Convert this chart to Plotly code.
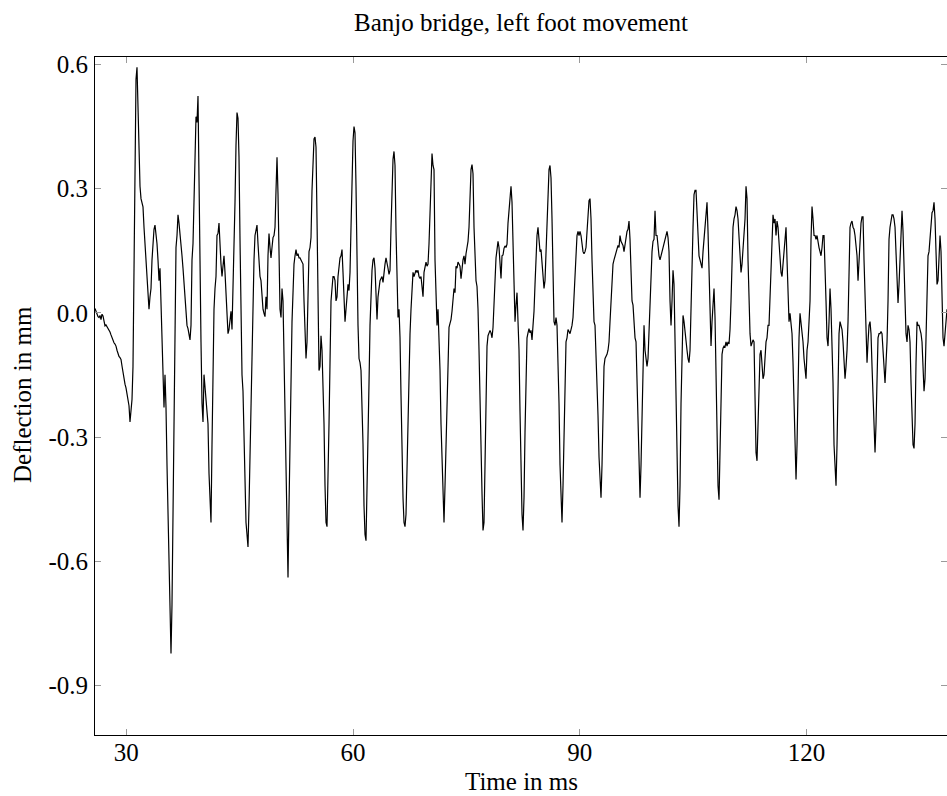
import plotly.graph_objects as go

# sampled bridge deflection (mm), uniform sampling
t_start = 25.858   # ms
dt = 0.13233       # ms between samples

defl_26_40 = [
    0.011, 0.004, -0.001, -0.009, -0.011, -0.006, -0.016, -0.003, -0.007, -0.021,
    -0.031, -0.029, -0.033, -0.036, -0.039, -0.046, -0.053, -0.060, -0.067, -0.072,
    -0.075, -0.080, -0.090, -0.100, -0.105, -0.108, -0.112, -0.128, -0.145, -0.159,
    -0.172, -0.181, -0.197, -0.209, -0.224, -0.263, -0.233, -0.209, -0.129, 0.108,
    0.395, 0.564, 0.593, 0.494, 0.385, 0.306, 0.276, 0.266, 0.256, 0.207,
    0.167, 0.103, 0.088, 0.029, 0.009, 0.039, 0.059, 0.128, 0.178, 0.202,
    0.212, 0.192, 0.167, 0.128, 0.078, 0.108, 0.009, -0.070, -0.129, -0.228,
    -0.149, -0.228, -0.367, -0.476, -0.585, -0.694, -0.822, -0.704, -0.486, -0.238,
    0.029, 0.158, 0.187, 0.237, 0.217, 0.182, 0.163, 0.138, 0.108, 0.073,
    0.039, -0.001, -0.030, -0.038, -0.050, -0.065, -0.030, 0.128, 0.167, 0.286,
    0.376, 0.474, 0.460,
]
defl_40_53 = [
    0.524, 0.326, 0.078, -0.070, -0.218, -0.263, -0.149, -0.179, -0.194, -0.228,
    -0.268, -0.387, -0.476, -0.506, -0.318, -0.090, 0.009, 0.059, 0.088, 0.187,
    0.192, 0.217, 0.148, 0.118, 0.088, 0.128, 0.138, 0.098, 0.039, 0.014,
    -0.050, -0.040, -0.011, 0.004, -0.040, 0.049, 0.158, 0.267, 0.405, 0.484,
    0.470, 0.376, 0.178, -0.050, -0.149, -0.189, -0.307, -0.426, -0.506, -0.535,
    -0.565, -0.466, -0.327, -0.189, -0.080, 0.009, 0.128, 0.187, 0.207, 0.212,
    0.167, 0.108, 0.088, 0.078, 0.039, 0.009, -0.001, -0.009, 0.039, 0.009,
    0.138, 0.192, 0.158, 0.133, 0.158, 0.182, 0.187, 0.207, 0.296, 0.376,
    0.286, 0.128, 0.009, -0.011, 0.059, 0.029, -0.120, -0.248, -0.417, -0.535,
    -0.639, -0.466, -0.268, -0.169, -0.021, 0.069, 0.118, 0.138, 0.153, 0.138,
    0.143, 0.133, 0.133, 0.128, 0.123,
]
defl_53_67 = [
    0.118, 0.029, -0.050, -0.110, -0.070, 0.069, 0.148, 0.158, 0.182, 0.296,
    0.385, 0.420, 0.425, 0.400, 0.227, 0.029, -0.139, -0.129, -0.055, -0.090,
    -0.169, -0.268, -0.417, -0.506, -0.516, -0.417, -0.268, -0.120, 0.029, 0.059,
    0.088, 0.088, 0.078, 0.029, 0.039, 0.088, 0.118, 0.133, 0.138, 0.153,
    0.098, 0.039, -0.021, 0.009, 0.054, 0.069, 0.054, 0.098, 0.207, 0.326,
    0.415, 0.450, 0.435, 0.306, 0.108, -0.030, -0.110, -0.120, -0.139, -0.218,
    -0.317, -0.466, -0.535, -0.550, -0.446, -0.288, -0.169, -0.030, 0.059, 0.103,
    0.128, 0.133, 0.108, 0.059, -0.016, 0.039, 0.064, 0.078, 0.083, 0.088,
    0.074, 0.103, 0.118, 0.133, 0.123, 0.108, 0.093, 0.103, 0.207, 0.326,
    0.371, 0.390, 0.356, 0.197, 0.078, -0.011, 0.009, -0.060, -0.199, -0.347,
    -0.446, -0.506, -0.516, -0.486, -0.367,
]
defl_67_81 = [
    -0.288, -0.169, -0.050, 0.009, 0.074, 0.098, 0.088, 0.098, 0.103, 0.098,
    0.103, 0.088, 0.083, 0.088, 0.069, 0.039, 0.098, 0.118, 0.123, 0.113,
    0.118, 0.167, 0.247, 0.326, 0.385, 0.356, 0.346, 0.128, 0.029, -0.030,
    0.009, -0.050, -0.139, -0.268, -0.367, -0.466, -0.506, -0.417, -0.318, -0.189,
    -0.070, -0.035, -0.025, -0.016, 0.004, 0.024, 0.059, 0.049, 0.113, 0.108,
    0.123, 0.118, 0.113, 0.083, 0.108, 0.128, 0.138, 0.118, 0.143, 0.158,
    0.173, 0.207, 0.286, 0.346, 0.358, 0.336, 0.207, 0.108, 0.078, 0.064,
    0.009, -0.090, -0.228, -0.337, -0.436, -0.525, -0.506, -0.367, -0.189, -0.080,
    -0.055, -0.050, -0.042, -0.048, -0.060, -0.035, 0.029, 0.098, 0.133, 0.153,
    0.173, 0.158, 0.118, 0.083, 0.138, 0.140, 0.156, 0.162, 0.158, 0.166,
    0.217, 0.252, 0.265, 0.306, 0.267,
]
defl_81_95 = [
    0.187, 0.069, -0.021, 0.019, 0.049, -0.021, -0.090, -0.238, -0.377, -0.486,
    -0.525, -0.446, -0.288, -0.149, -0.060, -0.048, -0.038, -0.048, -0.042, -0.065,
    -0.030, 0.004, 0.069, 0.158, 0.187, 0.207, 0.167, 0.148, 0.153, 0.123,
    0.103, 0.059, 0.078, 0.158, 0.227, 0.306, 0.346, 0.356, 0.326, 0.227,
    0.078, -0.021, -0.030, -0.011, -0.030, -0.110, -0.218, -0.367, -0.466, -0.506,
    -0.417, -0.268, -0.120, -0.070, -0.060, -0.040, -0.045, -0.050, -0.040, -0.030,
    -0.011, 0.029, 0.078, 0.138, 0.187, 0.197, 0.187, 0.197, 0.187, 0.158,
    0.148, 0.143, 0.148, 0.158, 0.197, 0.227, 0.271, 0.276, 0.227, 0.128,
    0.009, -0.021, -0.030, -0.090, -0.149, -0.248, -0.347, -0.417, -0.446, -0.367,
    -0.218, -0.129, -0.110, -0.105, -0.100, -0.090, -0.070, -0.021, 0.029, 0.078,
    0.118, 0.128, 0.138, 0.148, 0.158,
]
defl_95_109 = [
    0.163, 0.158, 0.187, 0.173, 0.167, 0.163, 0.148, 0.167, 0.178, 0.197,
    0.202, 0.222, 0.178, 0.108, 0.029, 0.019, -0.021, -0.060, -0.070, -0.169,
    -0.318, -0.417, -0.446, -0.367, -0.218, -0.070, -0.030, -0.090, -0.110, -0.129,
    -0.110, -0.050, 0.029, 0.108, 0.148, 0.173, 0.178, 0.247, 0.187, 0.187,
    0.148, 0.138, 0.128, 0.138, 0.148, 0.158, 0.167, 0.178, 0.187, 0.197,
    0.182, 0.148, 0.029, -0.030, 0.029, 0.103, 0.069, -0.070, -0.218, -0.367,
    -0.466, -0.516, -0.417, -0.218, -0.070, -0.006, -0.021, -0.050, -0.070, -0.090,
    -0.110, -0.120, -0.090, 0.029, 0.128, 0.207, 0.286, 0.296, 0.296, 0.227,
    0.167, 0.138, 0.128, 0.118, 0.108, 0.148, 0.178, 0.227, 0.237, 0.267,
    0.197, 0.078, -0.021, -0.080, -0.021, 0.039, 0.059, -0.011, -0.169, -0.318,
    -0.417, -0.451, -0.347, -0.199, -0.100,
]
defl_109_123 = [
    -0.085, -0.080, -0.082, -0.070, -0.080, -0.070, -0.075, -0.040, 0.029, 0.128,
    0.207, 0.227, 0.237, 0.257, 0.247, 0.227, 0.187, 0.128, 0.098, 0.118,
    0.148, 0.197, 0.227, 0.306, 0.276, 0.128, 0.029, -0.050, -0.080, -0.070,
    -0.065, -0.070, -0.169, -0.337, -0.357, -0.268, -0.169, -0.100, -0.090, -0.139,
    -0.159, -0.149, -0.100, -0.070, -0.060, -0.030, -0.030, 0.029, 0.128, 0.178,
    0.237, 0.217, 0.227, 0.187, 0.222, 0.207, 0.167, 0.118, 0.098, 0.088,
    0.118, 0.148, 0.197, 0.207, 0.128, 0.009, -0.021, -0.001, -0.021, -0.050,
    -0.120, -0.218, -0.318, -0.402, -0.318, -0.169, -0.060, -0.001, -0.021, -0.040,
    -0.070, -0.110, -0.139, -0.159, -0.090, -0.070, -0.021, 0.029, 0.178, 0.257,
    0.227, 0.187, 0.187, 0.178, 0.187, 0.167, 0.158, 0.148, 0.138, 0.158,
    0.187, 0.187, 0.128, 0.029, -0.060,
]
defl_123_139 = [
    -0.080, -0.021, 0.059, 0.009, -0.070, -0.169, -0.318, -0.397, -0.417, -0.318,
    -0.169, -0.050, -0.021, -0.030, -0.040, -0.070, -0.110, -0.159, -0.129, -0.090,
    -0.021, 0.128, 0.207, 0.217, 0.222, 0.207, 0.202, 0.187, 0.167, 0.138,
    0.078, 0.128, 0.178, 0.217, 0.232, 0.232, 0.128, 0.029, -0.070, -0.120,
    -0.070, -0.030, -0.021, -0.050, -0.129, -0.218, -0.307, -0.337, -0.268, -0.169,
    -0.060, -0.050, -0.050, -0.045, -0.050, -0.090, -0.149, -0.169, -0.120, -0.070,
    0.029, 0.178, 0.207, 0.227, 0.237, 0.237, 0.227, 0.207, 0.128, 0.049,
    0.024, 0.069, 0.128, 0.178, 0.247, 0.197, 0.108, 0.009, -0.050, -0.070,
    -0.030, -0.040, -0.070, -0.169, -0.248, -0.318, -0.327, -0.268, -0.120, -0.021,
    -0.030, -0.030, -0.040, -0.050, -0.070, -0.139, -0.189, -0.159, -0.070, 0.029,
    0.138, 0.148, 0.178, 0.227, 0.242, 0.247, 0.267, 0.227, 0.128, 0.069,
    0.078, 0.138, 0.187, 0.148, 0.029, -0.060, -0.080, -0.050, -0.011, 0.009,
]

deflection = (defl_26_40 + defl_40_53 + defl_53_67 + defl_67_81
              + defl_81_95 + defl_95_109 + defl_109_123 + defl_123_139)
time_ms = [t_start + i * dt for i in range(len(deflection))]

y_ticks = [0.6, 0.3, 0.0, -0.3, -0.6, -0.9]
y_labels = ["0.6", "0.3", "0.0", "-0.3", "-0.6", "-0.9"]
x_ticks = [30, 60, 90, 120]

serif = "Liberation Serif"
txt = dict(family=serif, size=25, color="black")

fig = go.Figure()
fig.add_trace(go.Scatter(x=time_ms, y=deflection, mode="lines",
                         line=dict(color="black", width=1.2),
                         showlegend=False))

axis_style = dict(showline=True, linecolor="black", linewidth=1,
                  mirror="ticks", ticks="inside", ticklen=6,
                  tickcolor="#9a9a9a", tickwidth=1,
                  showgrid=False, zeroline=False, automargin=False,
                  tickfont=txt)

fig.update_layout(
    width=947, height=796,
    margin=dict(l=95, r=0, t=57, b=61, autoexpand=False),
    paper_bgcolor="white", plot_bgcolor="white",
    title=dict(text="Banjo bridge, left foot movement", font=txt,
               x=0.5, xref="paper", xanchor="center",
               y=1 - 22 / 796, yref="container", yanchor="middle"),
    xaxis=dict(range=[t_start, 138.6], tickvals=x_ticks,
               ticklabelstandoff=-5, **axis_style),
    yaxis=dict(range=[-1.019, 0.618], tickvals=y_ticks, ticktext=y_labels,
               ticklabelstandoff=1, **axis_style),
)

# axis titles placed like the original figure
fig.add_annotation(text="Time in ms", font=txt, showarrow=False,
                   xref="paper", x=0.5, xanchor="center",
                   yref="paper", y=-46 / 678, yanchor="middle")
fig.add_annotation(text="Deflection in mm", font=txt, showarrow=False,
                   textangle=-90,
                   xref="paper", x=-73 / 852, xanchor="center",
                   yref="paper", y=(735 - 395) / 678, yanchor="middle")

# page body has a default margin; drop it so the figure sits at the corner
fig.write_html("out.html", config={"displayModeBar": False},
               post_script="document.body.style.margin='0';")
